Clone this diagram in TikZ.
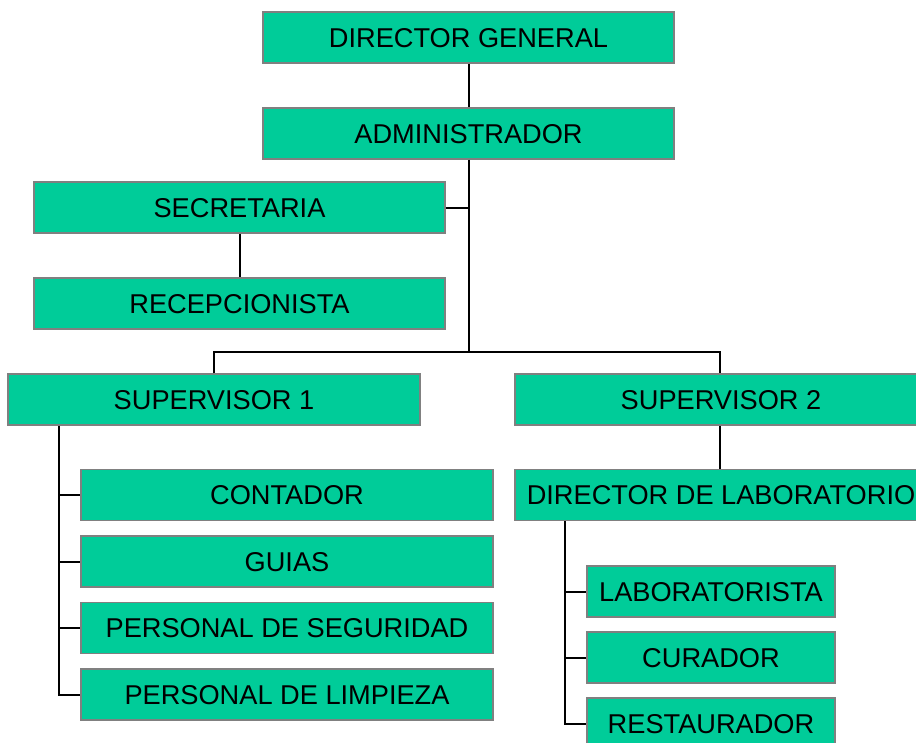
\documentclass[tikz,border=0pt]{standalone}
\usepackage{fontspec}
\setmainfont{Liberation Sans}
\definecolor{boxgreen}{RGB}{0,204,153}
\definecolor{boxborder}{RGB}{128,128,128}
\begin{document}
\begin{tikzpicture}[x=1pt,y=-1pt,
  orgbox/.style={draw=boxborder,line width=1.5pt,fill=boxgreen,inner sep=0pt,
    minimum height=51pt,minimum width=412pt,font=\fontsize{27.2}{27}\selectfont,
    text height=19.4pt,text depth=0pt,anchor=center},
  smallbox/.style={orgbox,minimum width=248pt},
  conn/.style={draw=black,line width=2pt}]
\useasboundingbox (0,0) rectangle (916,742);
\clip (0,0) rectangle (916,742);
\node[orgbox,minimum width=411pt] (dg) at (468.5,37.5) {DIRECTOR GENERAL};
\node[orgbox,minimum width=411pt] (adm) at (468.5,133.5) {ADMINISTRADOR};
\node[orgbox,minimum width=411pt] (sec) at (239.5,207.5) {SECRETARIA};
\node[orgbox,minimum width=411pt] (rec) at (239.5,303.5) {RECEPCIONISTA};
\node[orgbox] (sup1) at (214,399.5) {SUPERVISOR 1};
\node[orgbox] (sup2) at (721,399.5) {SUPERVISOR 2};
\node[orgbox] (cont) at (287,495) {CONTADOR};
\node[orgbox] (guia) at (287,561.5) {GUIAS};
\node[orgbox] (seg) at (287,628) {PERSONAL DE SEGURIDAD};
\node[orgbox] (limp) at (287,694.5) {PERSONAL DE LIMPIEZA};
\node[orgbox] (dlab) at (721,495) {DIRECTOR DE LABORATORIO};
\node[smallbox] (lab) at (711,591.5) {LABORATORISTA};
\node[smallbox] (cur) at (711,657.5) {CURADOR};
\node[smallbox] (res) at (711,723.5) {RESTAURADOR};
\coordinate (j) at (468.5,352);
\coordinate (s1) at (59,425.5);
\coordinate (s2) at (565,521);
\draw[conn] (dg.south) -- (adm.north);
\draw[conn] (adm.south) -- (j);
\draw[conn] (sec.east) -- (j |- sec.east);
\draw[conn] (sec.south) -- (rec.north);
\draw[conn] (sup1.north) |- (j) -| ([xshift=-1pt]sup2.north);
\draw[conn] ([xshift=-1pt]sup2.south) -- ([xshift=-1pt]dlab.north);
\draw[conn] (s1) |- (limp.west);
\draw[conn] (s1 |- cont.west) -- (cont.west);
\draw[conn] (s1 |- guia.west) -- (guia.west);
\draw[conn] (s1 |- seg.west) -- (seg.west);
\draw[conn] (s2) |- (res.west);
\draw[conn] (s2 |- lab.west) -- (lab.west);
\draw[conn] (s2 |- cur.west) -- (cur.west);
\end{tikzpicture}
\end{document}
